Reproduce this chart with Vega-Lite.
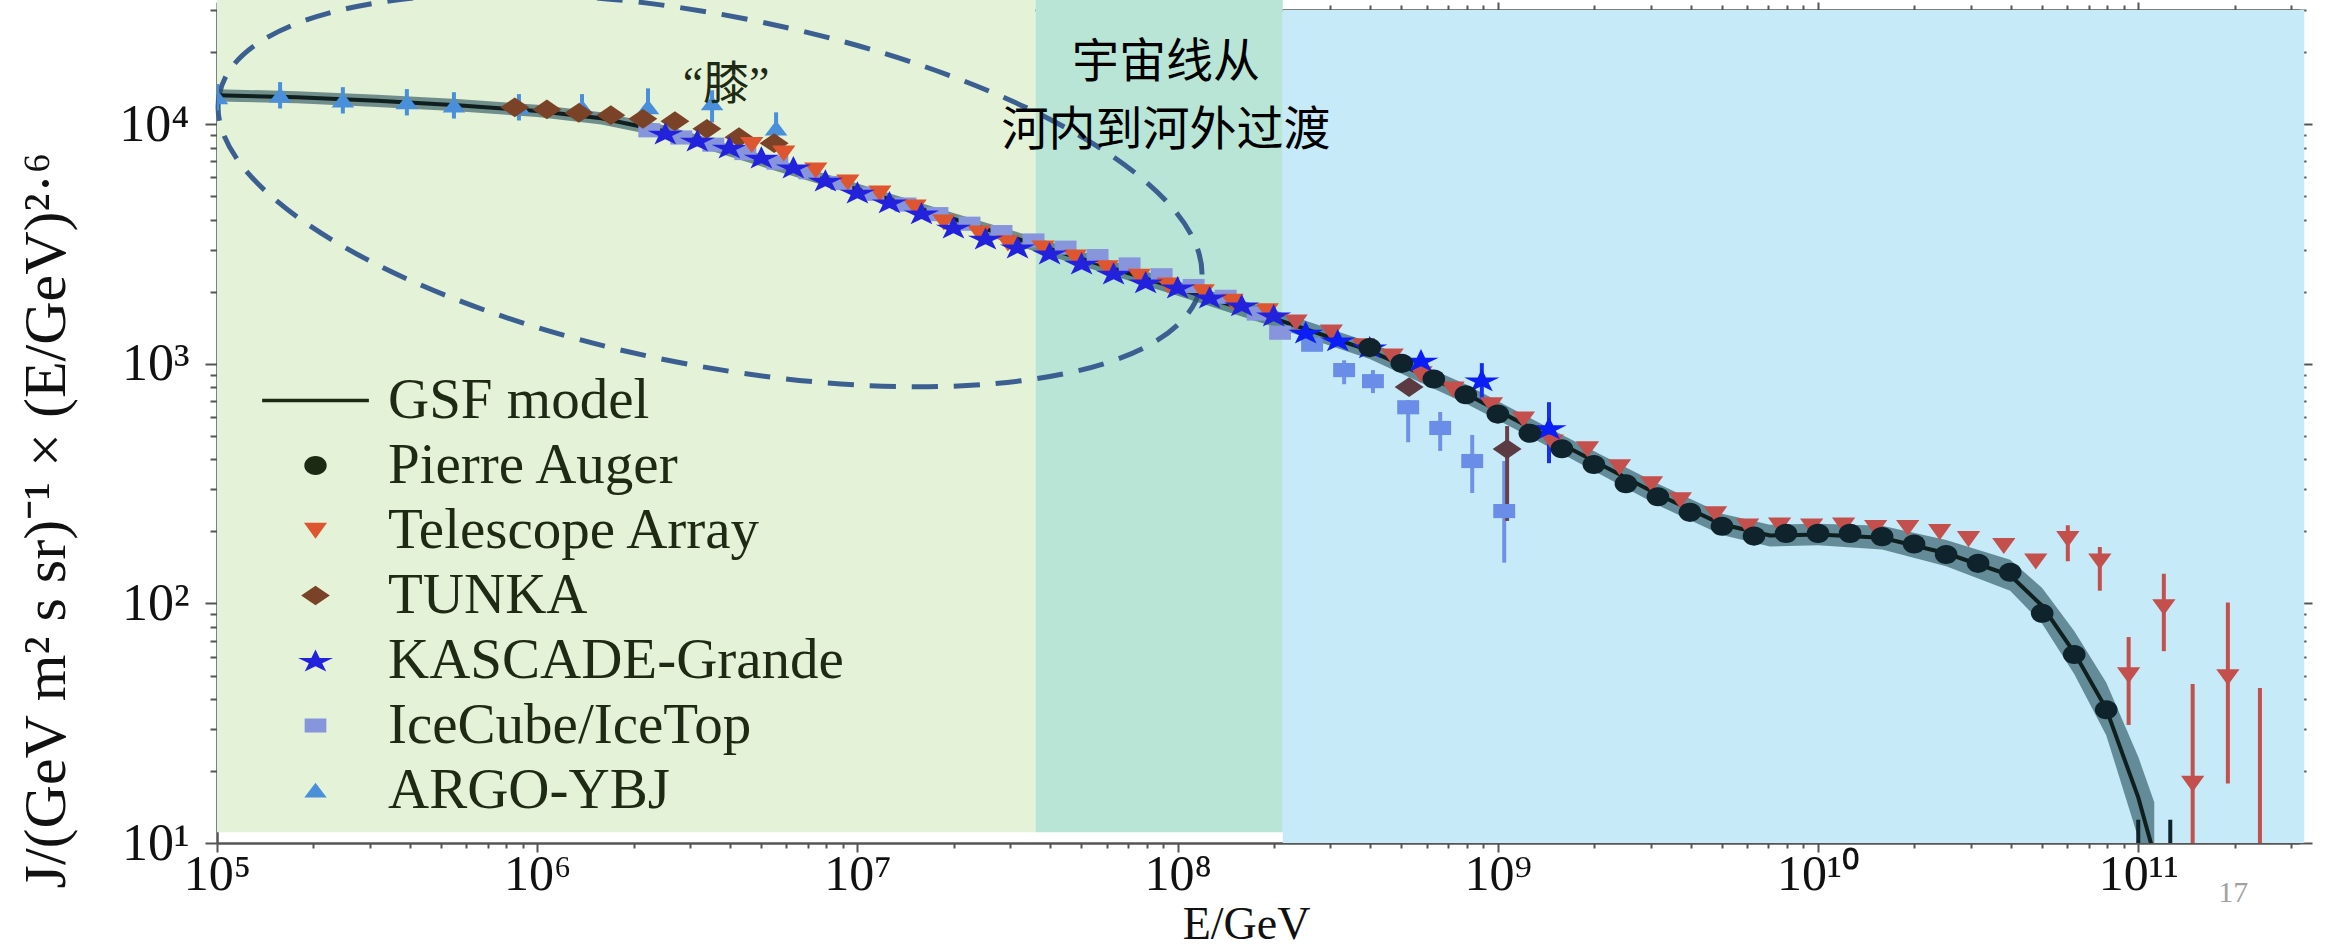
{
  "$schema": "https://vega.github.io/schema/vega-lite/v6.json",
  "width": 2083,
  "height": 833,
  "autosize": {"type": "none"},
  "padding": {"left": 217, "top": 10, "right": 31, "bottom": 107},
  "background": "white",
  "config": {"view": {"stroke": null}, "font": "Liberation Serif", "axis": {"labelFont": "Liberation Serif", "titleFont": "Liberation Serif"}},
  "datasets": {
    "regions": [
      {"zone": "galactic", "E1": 100000, "E2": 36000000},
      {"zone": "transition", "E1": 36000000, "E2": 213000000},
      {"zone": "extragalactic", "E1": 213000000, "E2": 330000000000}
    ],
    "model": [
      {"E": 1e5, "J": 13213, "lo": 12460, "hi": 14010},
      {"E": 1.778e5, "J": 12972, "lo": 12233, "hi": 13755},
      {"E": 3.162e5, "J": 12531, "lo": 11817, "hi": 13288},
      {"E": 5.623e5, "J": 12023, "lo": 11338, "hi": 12749},
      {"E": 1e6, "J": 11376, "lo": 10728, "hi": 12063},
      {"E": 1.585e6, "J": 10593, "lo": 9990, "hi": 11233},
      {"E": 2.512e6, "J": 9333, "lo": 8813, "hi": 9884},
      {"E": 3.162e6, "J": 8551, "lo": 8075, "hi": 9055},
      {"E": 3.981e6, "J": 7762, "lo": 7330, "hi": 8220},
      {"E": 6.31e6, "J": 6427, "lo": 6069, "hi": 6806},
      {"E": 1e7, "J": 5346, "lo": 5048, "hi": 5661},
      {"E": 1.995e7, "J": 4027, "lo": 3803, "hi": 4265},
      {"E": 3.981e7, "J": 3020, "lo": 2817, "hi": 3237},
      {"E": 1e8, "J": 2065, "lo": 1926, "hi": 2214},
      {"E": 1.995e8, "J": 1549, "lo": 1429, "hi": 1679},
      {"E": 3.981e8, "J": 1135, "lo": 1047, "hi": 1230},
      {"E": 7.943e8, "J": 750, "lo": 684, "hi": 822},
      {"E": 1.585e9, "J": 462, "lo": 422, "hi": 506},
      {"E": 3.162e9, "J": 285, "lo": 257, "hi": 316},
      {"E": 5.012e9, "J": 214, "lo": 193, "hi": 237},
      {"E": 7.079e9, "J": 192, "lo": 173, "hi": 213},
      {"E": 1e10, "J": 194, "lo": 175, "hi": 215},
      {"E": 1.585e10, "J": 188, "lo": 168, "hi": 211},
      {"E": 2.512e10, "J": 162, "lo": 143, "hi": 184},
      {"E": 3.981e10, "J": 131, "lo": 113, "hi": 152},
      {"E": 5.012e10, "J": 97.7, "lo": 82.2, "hi": 116},
      {"E": 6.31e10, "J": 62.4, "lo": 50.7, "hi": 76.8},
      {"E": 7.943e10, "J": 36.3, "lo": 28.2, "hi": 46.8},
      {"E": 1e11, "J": 15.5, "lo": 10.5, "hi": 22.9},
      {"E": 1.122e11, "J": 8.9, "lo": 5.4, "hi": 14.8}
    ],
    "obs": [
      {"exp": "IceCube/IceTop", "E": 2.239e6, "J": 9441},
      {"exp": "IceCube/IceTop", "E": 2.818e6, "J": 8810},
      {"exp": "IceCube/IceTop", "E": 3.548e6, "J": 8222},
      {"exp": "IceCube/IceTop", "E": 4.467e6, "J": 7586},
      {"exp": "IceCube/IceTop", "E": 5.623e6, "J": 6918},
      {"exp": "IceCube/IceTop", "E": 7.079e6, "J": 6310},
      {"exp": "IceCube/IceTop", "E": 8.913e6, "J": 5689},
      {"exp": "IceCube/IceTop", "E": 1.122e7, "J": 5129},
      {"exp": "IceCube/IceTop", "E": 1.413e7, "J": 4624},
      {"exp": "IceCube/IceTop", "E": 1.778e7, "J": 4217},
      {"exp": "IceCube/IceTop", "E": 2.239e7, "J": 3846},
      {"exp": "IceCube/IceTop", "E": 2.818e7, "J": 3548},
      {"exp": "IceCube/IceTop", "E": 3.548e7, "J": 3273},
      {"exp": "IceCube/IceTop", "E": 4.467e7, "J": 3055},
      {"exp": "IceCube/IceTop", "E": 5.623e7, "J": 2818},
      {"exp": "IceCube/IceTop", "E": 7.079e7, "J": 2600},
      {"exp": "IceCube/IceTop", "E": 8.913e7, "J": 2344},
      {"exp": "IceCube/IceTop", "E": 1.122e8, "J": 2113},
      {"exp": "IceCube/IceTop", "E": 1.413e8, "J": 1905},
      {"exp": "IceCube/IceTop", "E": 1.778e8, "J": 1622},
      {"exp": "IceCube/IceTop", "E": 2.089e8, "J": 1349},
      {"exp": "IceCube/IceTop", "E": 2.63e8, "J": 1202},
      {"exp": "IceCube/IceTop", "E": 3.311e8, "J": 942, "lo": 822, "hi": 1035},
      {"exp": "IceCube/IceTop", "E": 4.074e8, "J": 847, "lo": 755, "hi": 942},
      {"exp": "IceCube/IceTop", "E": 5.248e8, "J": 659, "lo": 471, "hi": 706},
      {"exp": "IceCube/IceTop", "E": 6.607e8, "J": 540, "lo": 433, "hi": 630},
      {"exp": "IceCube/IceTop", "E": 8.318e8, "J": 393, "lo": 289, "hi": 505},
      {"exp": "IceCube/IceTop", "E": 1.047e9, "J": 243, "lo": 148, "hi": 393},
      {"exp": "ARGO-YBJ", "E": 1e5, "J": 12972, "lo": 11429, "hi": 14723},
      {"exp": "ARGO-YBJ", "E": 1.574e5, "J": 13213, "lo": 11641, "hi": 14997},
      {"exp": "ARGO-YBJ", "E": 2.472e5, "J": 12589, "lo": 11092, "hi": 14289},
      {"exp": "ARGO-YBJ", "E": 3.917e5, "J": 12359, "lo": 10889, "hi": 14027},
      {"exp": "ARGO-YBJ", "E": 5.495e5, "J": 11995, "lo": 10568, "hi": 13614},
      {"exp": "ARGO-YBJ", "E": 8.77e5, "J": 11776, "lo": 10375, "hi": 13366},
      {"exp": "ARGO-YBJ", "E": 1.38e6, "J": 11776, "lo": 10375, "hi": 13366},
      {"exp": "ARGO-YBJ", "E": 2.218e6, "J": 11776, "lo": 10914, "hi": 14125},
      {"exp": "ARGO-YBJ", "E": 3.516e6, "J": 12246, "lo": 10186, "hi": 13868},
      {"exp": "ARGO-YBJ", "E": 5.572e6, "J": 9616, "lo": 8831, "hi": 11220},
      {"exp": "TUNKA", "E": 8.511e5, "J": 11776},
      {"exp": "TUNKA", "E": 1.072e6, "J": 11535},
      {"exp": "TUNKA", "E": 1.349e6, "J": 11169},
      {"exp": "TUNKA", "E": 1.698e6, "J": 10914},
      {"exp": "TUNKA", "E": 2.138e6, "J": 10544},
      {"exp": "TUNKA", "E": 2.692e6, "J": 10304},
      {"exp": "TUNKA", "E": 3.388e6, "J": 9572},
      {"exp": "TUNKA", "E": 4.266e6, "J": 8831},
      {"exp": "TUNKA", "E": 5.495e6, "J": 8337},
      {"exp": "TUNKA", "E": 5.284e8, "J": 800},
      {"exp": "TUNKA", "E": 1.069e9, "J": 441, "lo": 221, "hi": 550},
      {"exp": "Telescope Array", "E": 4.677e6, "J": 8222},
      {"exp": "Telescope Array", "E": 5.888e6, "J": 7568},
      {"exp": "Telescope Array", "E": 7.413e6, "J": 6427},
      {"exp": "Telescope Array", "E": 9.333e6, "J": 5728},
      {"exp": "Telescope Array", "E": 1.175e7, "J": 5152},
      {"exp": "Telescope Array", "E": 1.514e7, "J": 4508},
      {"exp": "Telescope Array", "E": 1.862e7, "J": 3899},
      {"exp": "Telescope Array", "E": 2.399e7, "J": 3508},
      {"exp": "Telescope Array", "E": 2.951e7, "J": 3192},
      {"exp": "Telescope Array", "E": 3.802e7, "J": 3041},
      {"exp": "Telescope Array", "E": 4.786e7, "J": 2786},
      {"exp": "Telescope Array", "E": 6.026e7, "J": 2512},
      {"exp": "Telescope Array", "E": 7.586e7, "J": 2317},
      {"exp": "Telescope Array", "E": 9.333e7, "J": 2128},
      {"exp": "Telescope Array", "E": 1.202e8, "J": 1995},
      {"exp": "Telescope Array", "E": 1.479e8, "J": 1820},
      {"exp": "Telescope Array", "E": 1.905e8, "J": 1660},
      {"exp": "Telescope Array", "E": 2.344e8, "J": 1493},
      {"exp": "Telescope Array", "E": 3.02e8, "J": 1355},
      {"exp": "Telescope Array", "E": 3.802e8, "J": 1186},
      {"exp": "Telescope Array", "E": 4.677e8, "J": 1076},
      {"exp": "Telescope Array", "E": 5.754e8, "J": 906},
      {"exp": "Telescope Array", "E": 7.244e8, "J": 783},
      {"exp": "Telescope Array", "E": 9.55e8, "J": 673},
      {"exp": "Telescope Array", "E": 1.202e9, "J": 587},
      {"exp": "Telescope Array", "E": 1.479e9, "J": 471},
      {"exp": "Telescope Array", "E": 1.905e9, "J": 441},
      {"exp": "Telescope Array", "E": 2.399e9, "J": 371},
      {"exp": "Telescope Array", "E": 3.02e9, "J": 315},
      {"exp": "Telescope Array", "E": 3.715e9, "J": 270},
      {"exp": "Telescope Array", "E": 4.786e9, "J": 236},
      {"exp": "Telescope Array", "E": 6.026e9, "J": 210},
      {"exp": "Telescope Array", "E": 7.586e9, "J": 212},
      {"exp": "Telescope Array", "E": 9.55e9, "J": 210},
      {"exp": "Telescope Array", "E": 1.202e10, "J": 212},
      {"exp": "Telescope Array", "E": 1.514e10, "J": 207},
      {"exp": "Telescope Array", "E": 1.905e10, "J": 207},
      {"exp": "Telescope Array", "E": 2.399e10, "J": 199},
      {"exp": "Telescope Array", "E": 2.951e10, "J": 186},
      {"exp": "Telescope Array", "E": 3.802e10, "J": 174},
      {"exp": "Telescope Array", "E": 4.786e10, "J": 150},
      {"exp": "Telescope Array", "E": 6.026e10, "J": 186, "lo": 150, "hi": 212},
      {"exp": "Telescope Array", "E": 7.586e10, "J": 150, "lo": 113, "hi": 172},
      {"exp": "Telescope Array", "E": 9.333e10, "J": 50.2, "lo": 31.1, "hi": 72.4},
      {"exp": "Telescope Array", "E": 1.202e11, "J": 96.6, "lo": 63.2, "hi": 133},
      {"exp": "Telescope Array", "E": 1.479e11, "J": 17.7, "lo": 9.5, "hi": 46.1},
      {"exp": "Telescope Array", "E": 1.905e11, "J": 49.3, "lo": 17.7, "hi": 101},
      {"exp": "Telescope Array", "E": 2.399e11, "J": 7.9, "lo": 5, "hi": 44.4},
      {"exp": "KASCADE-Grande", "E": 2.512e6, "J": 9162},
      {"exp": "KASCADE-Grande", "E": 3.162e6, "J": 8570},
      {"exp": "KASCADE-Grande", "E": 3.981e6, "J": 8017},
      {"exp": "KASCADE-Grande", "E": 5.012e6, "J": 7278},
      {"exp": "KASCADE-Grande", "E": 6.31e6, "J": 6622},
      {"exp": "KASCADE-Grande", "E": 7.943e6, "J": 5834},
      {"exp": "KASCADE-Grande", "E": 1e7, "J": 5200},
      {"exp": "KASCADE-Grande", "E": 1.259e7, "J": 4732},
      {"exp": "KASCADE-Grande", "E": 1.585e7, "J": 4256},
      {"exp": "KASCADE-Grande", "E": 1.995e7, "J": 3715},
      {"exp": "KASCADE-Grande", "E": 2.512e7, "J": 3342},
      {"exp": "KASCADE-Grande", "E": 3.162e7, "J": 3069},
      {"exp": "KASCADE-Grande", "E": 3.981e7, "J": 2897},
      {"exp": "KASCADE-Grande", "E": 5.012e7, "J": 2630},
      {"exp": "KASCADE-Grande", "E": 6.31e7, "J": 2388},
      {"exp": "KASCADE-Grande", "E": 7.943e7, "J": 2193},
      {"exp": "KASCADE-Grande", "E": 1e8, "J": 2089},
      {"exp": "KASCADE-Grande", "E": 1.259e8, "J": 1897},
      {"exp": "KASCADE-Grande", "E": 1.585e8, "J": 1758},
      {"exp": "KASCADE-Grande", "E": 1.995e8, "J": 1596},
      {"exp": "KASCADE-Grande", "E": 2.512e8, "J": 1355},
      {"exp": "KASCADE-Grande", "E": 3.162e8, "J": 1256},
      {"exp": "KASCADE-Grande", "E": 3.981e8, "J": 1175},
      {"exp": "KASCADE-Grande", "E": 5.754e8, "J": 1035},
      {"exp": "KASCADE-Grande", "E": 8.913e8, "J": 855, "lo": 706, "hi": 1007},
      {"exp": "KASCADE-Grande", "E": 1.445e9, "J": 540, "lo": 385, "hi": 692},
      {"exp": "Pierre Auger", "E": 3.981e8, "J": 1169},
      {"exp": "Pierre Auger", "E": 5.012e8, "J": 1005},
      {"exp": "Pierre Auger", "E": 6.31e8, "J": 865},
      {"exp": "Pierre Auger", "E": 7.943e8, "J": 743},
      {"exp": "Pierre Auger", "E": 1e9, "J": 617},
      {"exp": "Pierre Auger", "E": 1.259e9, "J": 513},
      {"exp": "Pierre Auger", "E": 1.585e9, "J": 442},
      {"exp": "Pierre Auger", "E": 1.995e9, "J": 380},
      {"exp": "Pierre Auger", "E": 2.512e9, "J": 316},
      {"exp": "Pierre Auger", "E": 3.162e9, "J": 279},
      {"exp": "Pierre Auger", "E": 3.981e9, "J": 240},
      {"exp": "Pierre Auger", "E": 5.012e9, "J": 210},
      {"exp": "Pierre Auger", "E": 6.31e9, "J": 191},
      {"exp": "Pierre Auger", "E": 7.943e9, "J": 196},
      {"exp": "Pierre Auger", "E": 1e10, "J": 196},
      {"exp": "Pierre Auger", "E": 1.259e10, "J": 196},
      {"exp": "Pierre Auger", "E": 1.585e10, "J": 190},
      {"exp": "Pierre Auger", "E": 1.995e10, "J": 177},
      {"exp": "Pierre Auger", "E": 2.512e10, "J": 160},
      {"exp": "Pierre Auger", "E": 3.162e10, "J": 147},
      {"exp": "Pierre Auger", "E": 3.981e10, "J": 135},
      {"exp": "Pierre Auger", "E": 5.012e10, "J": 91},
      {"exp": "Pierre Auger", "E": 6.31e10, "J": 61.2},
      {"exp": "Pierre Auger", "E": 7.943e10, "J": 36},
      {"exp": "Pierre Auger", "E": 1e11, "J": 6, "lo": 3, "hi": 12.5},
      {"exp": "Pierre Auger", "E": 1.259e11, "J": 4, "lo": 2, "hi": 12.5}
    ]
  },
  "layer": [
    {
      "data": {"name": "regions"},
      "transform": [{"filter": "datum.zone !== 'extragalactic'"}],
      "mark": {"type": "rect", "clip": false},
      "encoding": {
        "x": {"field": "E1", "type": "quantitative", "scale": {"type": "log", "domain": [100000, 320000000000], "nice": false},
          "axis": {"orient": "bottom", "values": [1e5,2e5,3e5,4e5,5e5,6e5,7e5,8e5,9e5,1e6,2e6,3e6,4e6,5e6,6e6,7e6,8e6,9e6,1e7,2e7,3e7,4e7,5e7,6e7,7e7,8e7,9e7,1e8,2e8,3e8,4e8,5e8,6e8,7e8,8e8,9e8,1e9,2e9,3e9,4e9,5e9,6e9,7e9,8e9,9e9,1e10,2e10,3e10,4e10,5e10,6e10,7e10,8e10,9e10,1e11,2e11,3e11],
            "labelExpr": "abs(log(datum.value)/LN10 - round(log(datum.value)/LN10)) < 0.001 ? '10' + ['⁰','¹','²','³','⁴','⁵','⁶','⁷','⁸','⁹','¹⁰','¹¹'][round(log(datum.value)/LN10)] : ''",
            "labelFontSize": 50, "labelColor": "#111111", "labelBaseline": "alphabetic", "labelPadding": 37,
            "labelOverlap": false, "labelFlush": false, "labelBound": false,
            "tickSize": {"condition": {"test": "abs(log(datum.value)/LN10 - round(log(datum.value)/LN10)) < 0.001", "value": 9}, "value": 5},
            "tickColor": "#555555", "tickWidth": 2, "domainColor": "#555555", "domainWidth": 2.5, "grid": false,
            "title": "E/GeV", "titleFontSize": 46, "titleFontWeight": "normal", "titleColor": "#111111",
            "titleX": 1029, "titleY": 95, "titleBaseline": "alphabetic", "titleAlign": "center"}},
        "x2": {"field": "E2"},
        "y": {"datum": 11.1, "type": "quantitative", "scale": {"type": "log", "domain": [10, 30000], "nice": false},
          "axis": {"orient": "left", "values": [10,20,30,40,50,60,70,80,90,100,200,300,400,500,600,700,800,900,1000,2000,3000,4000,5000,6000,7000,8000,9000,10000,20000,30000],
            "labelExpr": "abs(log(datum.value)/LN10 - round(log(datum.value)/LN10)) < 0.001 ? '10' + ['⁰','¹','²','³','⁴','⁵','⁶','⁷','⁸','⁹','¹⁰','¹¹'][round(log(datum.value)/LN10)] : ''",
            "labelFontSize": 52, "labelColor": "#111111", "labelPadding": 16, "labelBaseline": "middle", "labelAlign": "right",
            "labelOverlap": false, "labelFlush": false, "labelBound": false,
            "tickSize": {"condition": {"test": "abs(log(datum.value)/LN10 - round(log(datum.value)/LN10)) < 0.001", "value": 12}, "value": 7},
            "tickColor": "#555555", "tickWidth": 2, "domainColor": "#555555", "domainWidth": 2.5, "grid": false,
            "title": "J/(GeV m² s sr)⁻¹ × (E/GeV)²·⁶", "titleFontSize": 60, "titleFontWeight": "normal", "titleColor": "#111111",
            "titleX": -171, "titleY": 510, "titleBaseline": "middle", "titleAlign": "center"}},
        "y2": {"datum": 33000},
        "fill": {"field": "zone", "type": "nominal", "scale": {"domain": ["galactic", "transition", "extragalactic"], "range": ["#E4F2D7", "#B9E5D6", "#C6EAF8"]}, "legend": null}
      }
    },
    {
      "data": {"name": "regions"},
      "transform": [{"filter": "datum.zone === 'extragalactic'"}],
      "mark": {"type": "rect", "clip": false, "color": "#C6EAF8"},
      "encoding": {
        "x": {"field": "E1", "type": "quantitative",
          "axis": {"orient": "top", "values": [1e5,2e5,3e5,4e5,5e5,6e5,7e5,8e5,9e5,1e6,2e6,3e6,4e6,5e6,6e6,7e6,8e6,9e6,1e7,2e7,3e7,4e7,5e7,6e7,7e7,8e7,9e7,1e8,2e8,3e8,4e8,5e8,6e8,7e8,8e8,9e8,1e9,2e9,3e9,4e9,5e9,6e9,7e9,8e9,9e9,1e10,2e10,3e10,4e10,5e10,6e10,7e10,8e10,9e10,1e11,2e11,3e11],
            "labels": false, "title": null,
            "tickSize": {"condition": {"test": "abs(log(datum.value)/LN10 - round(log(datum.value)/LN10)) < 0.001", "value": 8}, "value": 5},
            "tickColor": "#555555", "tickWidth": 2, "domainColor": "#555555", "domainWidth": 2.5, "grid": false}},
        "x2": {"field": "E2"},
        "y": {"datum": 10, "type": "quantitative",
          "axis": {"orient": "right", "values": [10,20,30,40,50,60,70,80,90,100,200,300,400,500,600,700,800,900,1000,2000,3000,4000,5000,6000,7000,8000,9000,10000,20000,30000],
            "labels": false, "title": null,
            "tickSize": {"condition": {"test": "abs(log(datum.value)/LN10 - round(log(datum.value)/LN10)) < 0.001", "value": 12}, "value": 6},
            "tickColor": "#555555", "tickWidth": 2, "domainColor": "#555555", "domainWidth": 2.5, "grid": false}},
        "y2": {"datum": 30000}
      }
    },
    {
      "data": {"values": [{}]},
      "mark": {"type": "point", "shape": "M-1,0A1,0.35,0,1,0,1,0A1,0.35,0,1,0,-1,0Z", "size": 1000000, "angle": 11, "filled": false, "opacity": 1, "stroke": "#3B5F91", "strokeWidth": 5, "strokeDash": [26, 16], "clip": false},
      "encoding": {
        "x": {"datum": 3465000, "type": "quantitative", "axis": null},
        "y": {"datum": 5306, "type": "quantitative", "axis": null}
      }
    },
    {
      "data": {"name": "model"},
      "mark": {"type": "area", "clip": true, "color": "#26505E", "opacity": 0.62},
      "encoding": {
        "x": {"field": "E", "type": "quantitative", "axis": null},
        "y": {"field": "lo", "type": "quantitative", "axis": null},
        "y2": {"field": "hi"}
      }
    },
    {
      "data": {"name": "model"},
      "mark": {"type": "line", "clip": true, "color": "#0F1F1D", "strokeWidth": 4},
      "encoding": {
        "x": {"field": "E", "type": "quantitative", "axis": null},
        "y": {"field": "J", "type": "quantitative", "axis": null}
      }
    },
    {
      "data": {"name": "obs"},
      "transform": [{"filter": "isValid(datum.lo)"}],
      "mark": {"type": "rule", "clip": true, "strokeWidth": 4},
      "encoding": {
        "x": {"field": "E", "type": "quantitative", "axis": null},
        "y": {"field": "lo", "type": "quantitative", "axis": null},
        "y2": {"field": "hi"},
        "stroke": {"field": "exp", "type": "nominal", "scale": {"domain": ["ARGO-YBJ", "IceCube/IceTop", "KASCADE-Grande", "TUNKA", "Telescope Array", "Pierre Auger"], "range": ["#4A8FDA", "#6F92E6", "#1530F0", "#6A4048", "#C4504E", "#0E232B"]}, "legend": null}
      }
    },
    {
      "data": {"name": "obs"},
      "transform": [{"filter": "datum.E < 2.2e8 && datum.exp !== 'Pierre Auger'"}],
      "mark": {"type": "point", "filled": true, "size": 1250, "opacity": 1, "strokeWidth": 0, "clip": true},
      "encoding": {
        "x": {"field": "E", "type": "quantitative", "axis": null},
        "y": {"field": "J", "type": "quantitative", "axis": null},
        "color": {"field": "exp", "type": "nominal",
          "scale": {"domain": ["GSF model", "Pierre Auger", "Telescope Array", "TUNKA", "KASCADE-Grande", "IceCube/IceTop", "ARGO-YBJ"], "range": ["#1C2A14", "#1C2A14", "#DD5630", "#7A4328", "#2222DD", "#8795DC", "#4A8FDA"]},
          "legend": {"orient": "none", "legendX": 70, "legendY": 362, "title": null, "symbolSize": 1225, "labelFont": "Liberation Serif", "labelFontSize": 57, "labelColor": "#1E2A14", "labelOffset": 44, "labelLimit": 800, "rowPadding": 7, "padding": 0}},
        "shape": {"field": "exp", "type": "nominal",
          "scale": {"domain": ["GSF model", "Pierre Auger", "Telescope Array", "TUNKA", "KASCADE-Grande", "IceCube/IceTop", "ARGO-YBJ"],
            "range": ["M-3.05,-0.1L3.05,-0.1L3.05,0.1L-3.05,0.1Z", "M-0.64,0A0.64,0.54,0,1,0,0.64,0A0.64,0.54,0,1,0,-0.64,0Z", "M-0.66,-0.44L0.66,-0.44L0,0.47Z", "M-0.82,0L0,-0.56L0.82,0L0,0.56Z", "M0,-0.633L0.236,-0.149L0.999,-0.149L0.381,0.15L0.617,0.633L0,0.334L-0.617,0.633L-0.381,0.15L-0.999,-0.149L-0.236,-0.149Z", "M-0.62,-0.4L0.62,-0.4L0.62,0.4L-0.62,0.4Z", "M-0.64,0.4L0.64,0.4L0,-0.44Z"]},
          "legend": {"orient": "none", "legendX": 70, "legendY": 362, "title": null, "symbolSize": 1225, "labelFont": "Liberation Serif", "labelFontSize": 57, "labelColor": "#1E2A14", "labelOffset": 44, "labelLimit": 800, "rowPadding": 7, "padding": 0}}
      }
    },
    {
      "data": {"name": "obs"},
      "transform": [{"filter": "datum.E >= 2.2e8 && datum.exp === 'IceCube/IceTop'"}],
      "mark": {"type": "point", "filled": true, "size": 1250, "opacity": 1, "strokeWidth": 0, "clip": true, "color": "#6A8EE8", "shape": "M-0.62,-0.4L0.62,-0.4L0.62,0.4L-0.62,0.4Z"},
      "encoding": {
        "x": {"field": "E", "type": "quantitative", "axis": null},
        "y": {"field": "J", "type": "quantitative", "axis": null}
      }
    },
    {
      "data": {"name": "obs"},
      "transform": [{"filter": "datum.E >= 2.2e8 && datum.exp === 'Telescope Array'"}],
      "mark": {"type": "point", "filled": true, "size": 1250, "opacity": 1, "strokeWidth": 0, "clip": true, "color": "#C4504E", "shape": "M-0.66,-0.44L0.66,-0.44L0,0.47Z"},
      "encoding": {
        "x": {"field": "E", "type": "quantitative", "axis": null},
        "y": {"field": "J", "type": "quantitative", "axis": null}
      }
    },
    {
      "data": {"name": "obs"},
      "transform": [{"filter": "datum.E >= 2.2e8 && datum.exp === 'TUNKA'"}],
      "mark": {"type": "point", "filled": true, "size": 1250, "opacity": 1, "strokeWidth": 0, "clip": true, "color": "#5C3A42", "shape": "M-0.82,0L0,-0.56L0.82,0L0,0.56Z"},
      "encoding": {
        "x": {"field": "E", "type": "quantitative", "axis": null},
        "y": {"field": "J", "type": "quantitative", "axis": null}
      }
    },
    {
      "data": {"name": "obs"},
      "transform": [{"filter": "datum.E >= 2.2e8 && datum.exp === 'KASCADE-Grande'"}],
      "mark": {"type": "point", "filled": true, "size": 1250, "opacity": 1, "strokeWidth": 0, "clip": true, "color": "#0A1EF5", "shape": "M0,-0.633L0.236,-0.149L0.999,-0.149L0.381,0.15L0.617,0.633L0,0.334L-0.617,0.633L-0.381,0.15L-0.999,-0.149L-0.236,-0.149Z"},
      "encoding": {
        "x": {"field": "E", "type": "quantitative", "axis": null},
        "y": {"field": "J", "type": "quantitative", "axis": null}
      }
    },
    {
      "data": {"name": "obs"},
      "transform": [{"filter": "datum.exp === 'Pierre Auger'"}],
      "mark": {"type": "point", "filled": true, "size": 1250, "opacity": 1, "strokeWidth": 0, "clip": true, "color": "#0E232B", "shape": "M-0.64,0A0.64,0.54,0,1,0,0.64,0A0.64,0.54,0,1,0,-0.64,0Z"},
      "encoding": {
        "x": {"field": "E", "type": "quantitative", "axis": null},
        "y": {"field": "J", "type": "quantitative", "axis": null}
      }
    },
    {
      "data": {"values": [{}]},
      "mark": {"type": "text", "text": "“膝”", "font": "Liberation Serif, Noto Sans CJK SC", "fontSize": 46, "color": "#1E2A14", "align": "center", "baseline": "alphabetic", "clip": false},
      "encoding": {
        "x": {"datum": 3890000, "type": "quantitative", "axis": null},
        "y": {"datum": 12710, "type": "quantitative", "axis": null}
      }
    },
    {
      "data": {"values": [{}]},
      "mark": {"type": "text", "text": "宇宙线从", "font": "Noto Sans CJK SC", "fontSize": 47, "color": "#000000", "align": "center", "baseline": "alphabetic", "clip": false},
      "encoding": {
        "x": {"datum": 92000000, "type": "quantitative", "axis": null},
        "y": {"datum": 15704, "type": "quantitative", "axis": null}
      }
    },
    {
      "data": {"values": [{}]},
      "mark": {"type": "text", "text": "河内到河外过渡", "font": "Noto Sans CJK SC", "fontSize": 47, "color": "#000000", "align": "center", "baseline": "alphabetic", "clip": false},
      "encoding": {
        "x": {"datum": 92000000, "type": "quantitative", "axis": null},
        "y": {"datum": 8174, "type": "quantitative", "axis": null}
      }
    },
    {
      "data": {"values": [{}]},
      "mark": {"type": "text", "text": "17", "font": "Liberation Serif", "fontSize": 30, "color": "#A0A0A0", "align": "center", "baseline": "middle", "clip": false},
      "encoding": {
        "x": {"datum": 198000000000, "type": "quantitative", "axis": null},
        "y": {"datum": 6.19, "type": "quantitative", "axis": null}
      }
    }
  ],
  "resolve": {"axis": {"x": "independent", "y": "independent"}}
}
